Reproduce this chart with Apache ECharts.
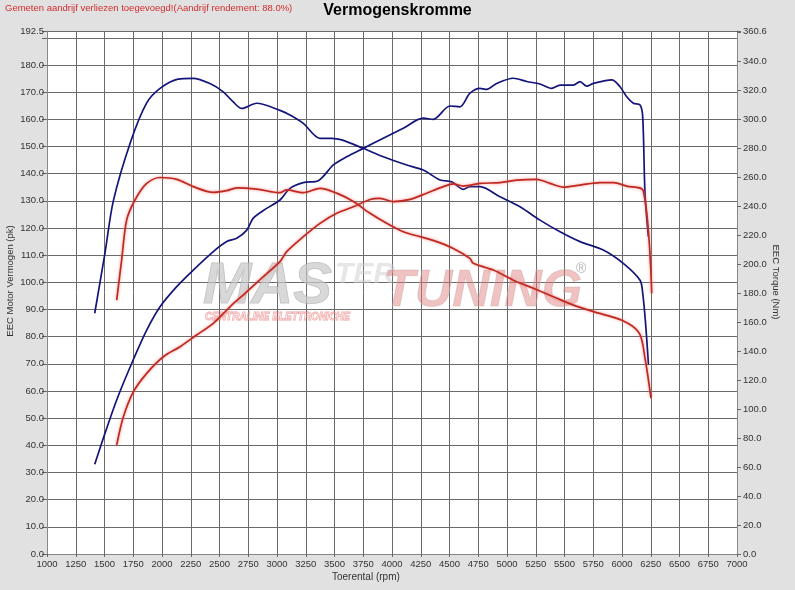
<!DOCTYPE html>
<html><head><meta charset="utf-8">
<script src="https://cdn.jsdelivr.net/npm/echarts@6/dist/echarts.min.js"></script>
<style>html,body{margin:0;padding:0;background:#e1e1e1}#c{width:795px;height:590px}</style>
</head><body><div id="c"></div>
<script>
// Tuned (blue) power, pk (left axis)
const tunedPowerRpm = [1415,1504,1606,1737,1867,1983,2128,2272,2446,2563,2650,2737,2794,2910,3026,3113,3229,3359,3490,3606,3750,3924,4098,4272,4359,4504,4591,4678,4765,4823,4910,5055,5171,5287,5388,5461,5577,5635,5693,5751,5910,5983,6041,6099,6157,6180,6200,6229];
const tunedPower = [33,44.4,56.7,70.2,82.4,91,98.4,104.5,111.3,115,116.2,119.2,123.6,127.2,130.3,134.6,136.7,137.4,143.2,146.2,149.3,153,156.7,160.4,160,164.9,164.6,169.6,171.4,171,173.2,175.1,173.9,173,171.4,172.6,172.6,173.9,172.2,173.2,174.5,172,168.3,165.9,165.3,161,132.8,116.8];
// Tuned (blue) torque, Nm (right axis)
const tunedTorqueRpm = [1415,1504,1577,1728,1867,1983,2139,2270,2417,2530,2617,2693,2823,3026,3113,3229,3374,3476,3563,3750,3924,4128,4272,4417,4519,4620,4678,4765,4939,5113,5287,5461,5635,5837,6011,6157,6180,6205,6230];
const tunedTorque = [166,207.5,243.5,284.4,311,321,327.4,328,324.4,318.8,311.9,307.2,310.8,305.9,302.7,296.9,286.6,286.6,285.5,279.7,273.9,268.2,264.7,257.9,256.6,251.4,253.3,253.3,246.3,239.4,230.2,222.2,215.4,209.6,200.4,188.8,179.8,159,130.4];
// Stock (red) power, pk (left axis)
const stockPowerRpm = [1606,1664,1751,1867,2012,2157,2301,2446,2591,2737,2881,3026,3084,3229,3374,3519,3664,3809,3896,4012,4157,4301,4446,4533,4620,4765,4939,5084,5258,5374,5490,5635,5809,5925,6041,6185,6258];
const stockPower = [40.1,50.5,59.7,66.5,72.6,76.3,80.6,84.9,91,96.5,102.1,107.6,111.3,116.8,121.7,125.4,127.8,130.5,130.9,129.7,130.5,132.8,135.2,136.2,135.4,136.4,136.7,137.6,137.9,136.4,135,135.8,136.7,136.7,135.4,133.7,96];
// Stock (red) torque, Nm (right axis)
const stockTorqueRpm = [1606,1649,1693,1765,1867,1983,2128,2272,2446,2563,2650,2823,3026,3084,3229,3374,3519,3664,3809,3954,4098,4243,4388,4533,4678,4707,4881,5055,5229,5403,5577,5751,6000,6150,6200,6252];
const stockTorque = [175.1,202.7,230.4,244.1,255.5,259.6,258.3,253.3,249.3,250.5,252.5,251.6,249.1,251,249.1,252.1,248.8,243,234.9,228,222.2,218.8,215.4,210.7,203.8,200.4,195.8,188.8,183.2,177.4,171.6,167.1,161.1,152.3,135,107.5];

const xMin = 1000, xMax = 7000, xStep = 250;
const leftMax = 192.5, leftStep = 10;
const rightMax = 360.6, rightStep = 20;

const zip = (a, b) => a.map((v, i) => [v, b[i]]);
const FONT = 'Liberation Sans, Arial, sans-serif';
const BLUE = '#14147a', RED = '#bd2a22';

const chart = echarts.init(document.getElementById('c'), null, {renderer: 'canvas'});
chart.setOption({
  backgroundColor: '#e1e1e1',
  animation: false,
  textStyle: {fontFamily: FONT},
  grid: {left: 47, right: 58, top: 31, bottom: 36, show: true, backgroundColor: '#ffffff', borderWidth: 0},
  xAxis: {
    type: 'value', min: xMin, max: xMax, interval: xStep,
    axisLine: {show: true, lineStyle: {color: '#888', width: 1}},
    axisTick: {show: true, length: 3, lineStyle: {color: '#666'}},
    axisLabel: {color: '#333', fontSize: 9.5, margin: 5, fontFamily: FONT, formatter: v => String(v)},
    splitLine: {show: true, lineStyle: {color: '#6a6a6a', width: 1}}
  },
  yAxis: [{
    type: 'value', min: 0, max: leftMax, interval: leftStep, position: 'left',
    axisLine: {show: true, lineStyle: {color: '#888'}},
    axisTick: {show: true, length: 5, lineStyle: {color: '#666'}},
    axisLabel: {color: '#333', fontSize: 9.5, margin: 3, fontFamily: FONT,
      formatter: v => (Math.abs(v - 190) < 1e-6 ? '' : v.toFixed(1))},
    splitLine: {show: true, lineStyle: {color: '#6a6a6a', width: 1}}
  }, {
    type: 'value', min: 0, max: rightMax, interval: rightStep, position: 'right',
    axisLine: {show: true, lineStyle: {color: '#888'}},
    axisTick: {show: true, length: 4, lineStyle: {color: '#666'}},
    axisLabel: {color: '#333', fontSize: 9.5, margin: 6, fontFamily: FONT,
      formatter: v => (Math.abs(v - 360) < 1e-6 ? '' : v.toFixed(1))},
    splitLine: {show: false}
  }],
  graphic: [
    {type: 'text', left: 5, top: 3, z: 10, style: {text: 'Gemeten aandrijf verliezen toegevoegd!(Aandrijf rendement: 88.0%)', fill: '#d22c2c', font: '9.5px ' + FONT}},
    {type: 'text', left: 'center', top: 3, z: 10, style: {text: 'Vermogenskromme', fill: '#000', font: 'bold 16px ' + FONT}},
    {type: 'text', left: 332, top: 572, z: 10, style: {text: 'Toerental (rpm)', fill: '#333', font: '10px ' + FONT}},
    {type: 'text', x: 5, y: 281, rotation: Math.PI / 2, z: 10, style: {text: 'EEC Motor Vermogen (pk)', fill: '#333', font: '9.5px ' + FONT, align: 'center', verticalAlign: 'top'}},
    {type: 'text', x: 781, y: 282, rotation: -Math.PI / 2, z: 10, style: {text: 'EEC Torque (Nm)', fill: '#333', font: '9.5px ' + FONT, align: 'center', verticalAlign: 'top'}},
    // watermark logo
    {type: 'text', x: 203, y: 258, z: 1, silent: true, style: {text: 'MAS', fill: 'rgba(200,200,200,0.7)', stroke: 'rgba(160,160,160,0.6)', lineWidth: 1, font: 'italic bold 58px ' + FONT}},
    {type: 'text', x: 335, y: 260, z: 1, silent: true, style: {text: 'TER', fill: 'rgba(205,205,205,0.5)', font: 'italic bold 30px ' + FONT}},
    {type: 'text', x: 383, y: 266, z: 1, silent: true, style: {text: 'TUNING', fill: 'rgba(225,120,120,0.45)', stroke: 'rgba(200,200,200,0.5)', lineWidth: 1, font: 'italic bold 52px ' + FONT}},
    {type: 'text', x: 205, y: 312, z: 1, silent: true, style: {text: 'CENTRALINE ELETTRONICHE', fill: 'rgba(255,255,255,0.2)', stroke: 'rgba(230,90,90,0.55)', lineWidth: 0.8, font: 'italic bold 10px ' + FONT}},
    {type: 'text', x: 576, y: 262, z: 1, silent: true, style: {text: '®', fill: 'rgba(150,150,150,0.7)', font: '14px ' + FONT}}
  ],
  series: [
    {name: 'Tuned power', type: 'line', yAxisIndex: 0, data: zip(tunedPowerRpm, tunedPower), showSymbol: false, smooth: 0.3,
      lineStyle: {color: BLUE, width: 1.7}, itemStyle: {color: BLUE}, z: 3},
    {name: 'Tuned torque', type: 'line', yAxisIndex: 1, data: zip(tunedTorqueRpm, tunedTorque), showSymbol: false, smooth: 0.3,
      lineStyle: {color: BLUE, width: 1.7}, itemStyle: {color: BLUE}, z: 3},
    {name: 'Stock power', type: 'line', yAxisIndex: 0, data: zip(stockPowerRpm, stockPower), showSymbol: false, smooth: 0.3,
      lineStyle: {color: RED, width: 1.7, shadowColor: 'rgba(255,110,110,0.8)', shadowBlur: 3}, itemStyle: {color: RED}, z: 3},
    {name: 'Stock torque', type: 'line', yAxisIndex: 1, data: zip(stockTorqueRpm, stockTorque), showSymbol: false, smooth: 0.3,
      lineStyle: {color: RED, width: 1.7, shadowColor: 'rgba(255,110,110,0.8)', shadowBlur: 3}, itemStyle: {color: RED}, z: 3}
  ]
});
</script>
</body></html>
